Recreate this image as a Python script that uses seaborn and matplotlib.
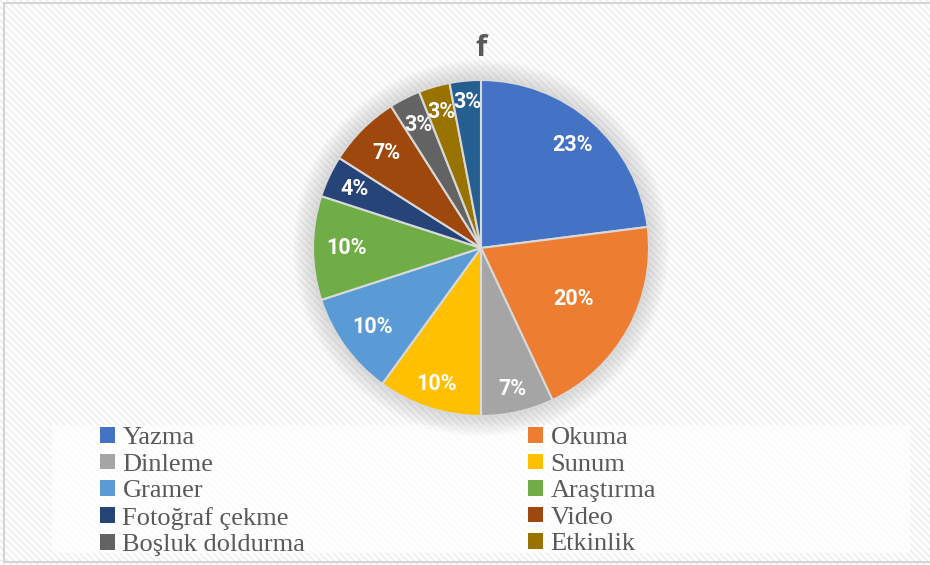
import matplotlib
matplotlib.use("Agg")
import numpy as np
import matplotlib.pyplot as plt
from matplotlib.patches import Rectangle, Circle, Patch
import seaborn as sns

# data (percent of answers)
categories = ["Yazma", "Okuma", "Dinleme", "Sunum", "Gramer", "Araştırma",
              "Fotoğraf çekme", "Video", "Boşluk doldurma", "Etkinlik", ""]
shares = [23, 20, 7, 10, 10, 10, 4, 7, 3, 3, 3]
slice_colors = ["#4472C4", "#ED7D31", "#A5A5A5", "#FFC000", "#5B9BD5", "#70AD47",
                "#264478", "#9E480E", "#636363", "#997300", "#255E91"]
# distance of each percent label from the centre (fraction of radius)
label_dist = [0.82, 0.63, 0.86, 0.85, 0.80, 0.80, 0.83, 0.80, 0.82, 0.84, 0.87]

sns.set_theme(style="white")
palette = sns.color_palette(slice_colors)

W, H = 930, 565
fig = plt.figure(figsize=(W / 100, H / 100), dpi=100)
fig.patch.set_facecolor("white")

# striped chart-area background and outer border
plt.rcParams["hatch.linewidth"] = 1.2
fig.patches.append(Rectangle((0, 0), 1, 1, transform=fig.transFigure,
                             facecolor="white", edgecolor="#ededed",
                             hatch="\\\\\\\\\\", lw=0, zorder=-10))
fig.patches.append(Rectangle((4 / W, 1 - 562 / H), 1.2, (562 - 3) / H,
                             transform=fig.transFigure, fill=False,
                             edgecolor="#d4d4d4", lw=1.5, zorder=-5))

# pie axes
R = 168
cx, cy = 481, 248
box = 220
ax = fig.add_axes([(cx - box) / W, (H - cy - box) / H, 2 * box / W, 2 * box / H])

# soft glow around the pie
for i in range(10):
    ax.add_patch(Circle((0, 0), 1.0 + 0.012 * (10 - i), color="#9a9a9a",
                        alpha=0.035, lw=0, zorder=0))

wedges, texts = ax.pie(shares, colors=palette, startangle=90, counterclock=False,
                       radius=1.0,
                       wedgeprops=dict(edgecolor="#d9d9d9", linewidth=1.5))
ax.set_xlim(-box / R, box / R)
ax.set_ylim(-box / R, box / R)
ax.set_aspect("equal")
ax.axis("off")

for w, val, d in zip(wedges, shares, label_dist):
    ang = np.deg2rad((w.theta1 + w.theta2) / 2)
    ax.text(d * np.cos(ang), d * np.sin(ang), f"{val}%", ha="center", va="center",
            color="white", fontsize=15.5, fontweight="bold", family="Roboto",
            zorder=5)

fig.text(cx / W, 1 - 49 / H, "f", ha="center", va="center", fontsize=21,
         fontweight="bold", color="#595959", family="Open Sans")

# legend background
fig.patches.append(Rectangle((52 / W, 1 - 553 / H), (910 - 52) / W, (553 - 425) / H,
                             transform=fig.transFigure, facecolor="white",
                             alpha=0.75, lw=0, zorder=-4))

handles = [Patch(facecolor=c, edgecolor="none") for c in slice_colors[:10]]
col1 = [0, 2, 4, 6, 8]
col2 = [1, 3, 5, 7, 9]
for idx, x0 in ((col1, 100), (col2, 528)):
    fig.legend([handles[i] for i in idx], [categories[i] for i in idx],
               loc="upper left", bbox_to_anchor=(x0 / W, 1 - 427 / H),
               frameon=False, ncol=1, borderpad=0, borderaxespad=0,
               handlelength=0.55, handleheight=0.55, handletextpad=0.3,
               labelspacing=0.16,
               prop=dict(family="Liberation Serif", size=19), labelcolor="#595959")

fig.savefig("out.png", dpi=100)
